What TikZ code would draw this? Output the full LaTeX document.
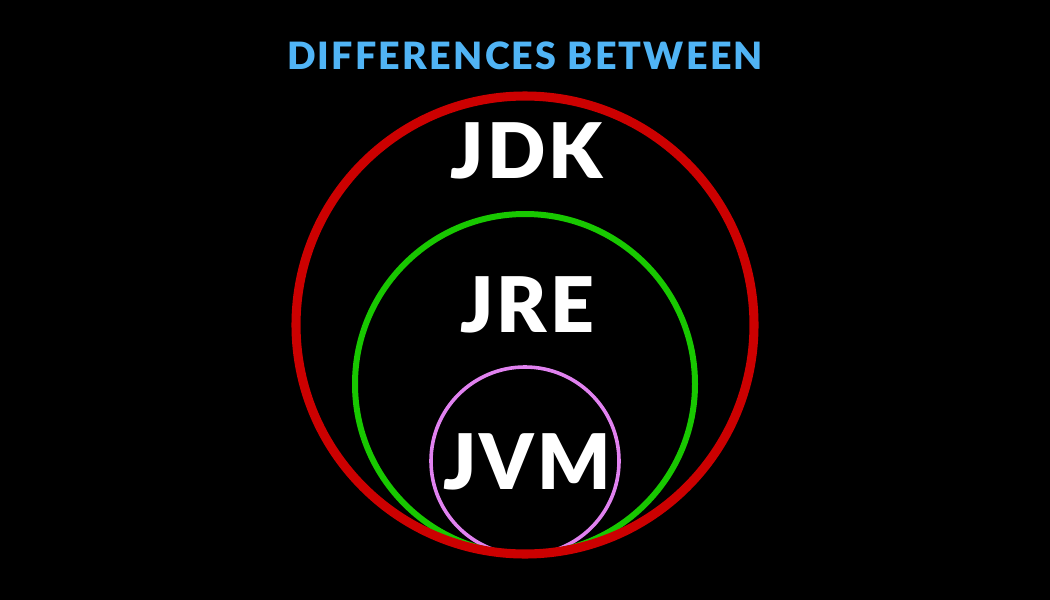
\documentclass[tikz,border=0pt]{standalone}
\usepackage{fontspec}
\setmainfont{Lato}[BoldFont={Lato Black}]
\definecolor{titleblue}{RGB}{80,180,245}
\definecolor{jdkred}{RGB}{204,0,0}
\definecolor{jregreen}{RGB}{24,200,0}
\definecolor{jvmviolet}{RGB}{225,130,240}
\begin{document}
\begin{tikzpicture}[x=0.75pt,y=-0.75pt,
  ring/.style={draw,fill=none},
  title/.style={text=titleblue,font=\fontsize{28.2}{34}\selectfont\bfseries\addfontfeature{LetterSpace=6},inner sep=0pt,anchor=base},
  big/.style={text=white,font=\fontsize{57.5}{66}\selectfont\bfseries\addfontfeature{LetterSpace=4},inner sep=0pt,anchor=base}]
\fill[black] (0,0) rectangle (1050,600);
\useasboundingbox (0,0) rectangle (1050,600);
\draw[ring,jvmviolet,line width=2.7pt] (525,461) circle[radius=94*0.75pt];
\draw[ring,jregreen,line width=4.5pt] (525,384) circle[radius=170*0.75pt];
\draw[ring,jdkred,line width=6.8pt] (525,325) circle[radius=229*0.75pt];
\node[title] (t) at (525,69.5) {DIFFERENCES BETWEEN};
\node[big] (jdk) at (527,178) {JDK};
\node[big] (jre) at (527,332) {JRE};
\node[big] (jvm) at (527,489) {JVM};
\end{tikzpicture}
\end{document}
